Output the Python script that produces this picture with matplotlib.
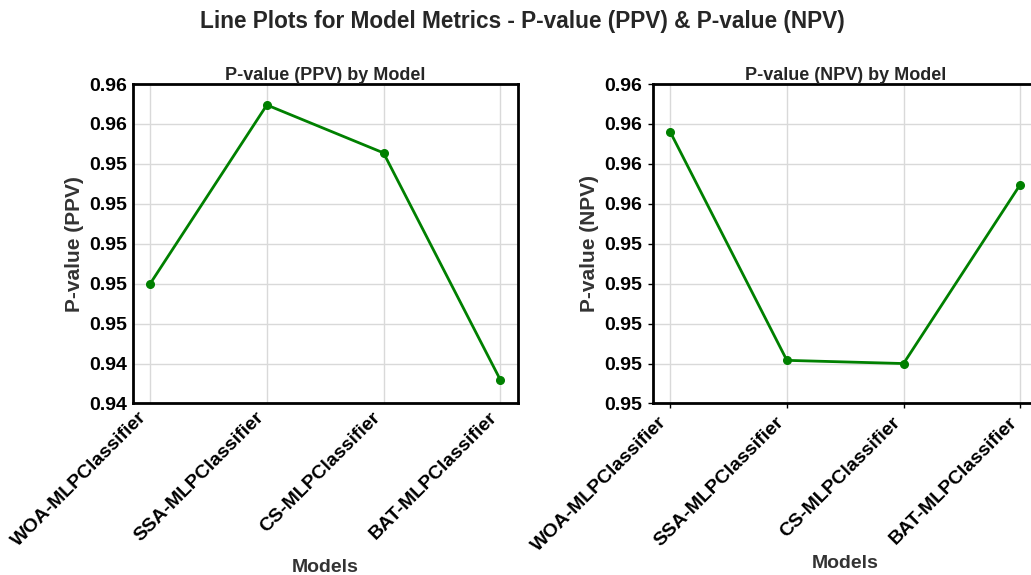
import numpy as np
import matplotlib.pyplot as plt
from matplotlib.ticker import FormatStrFormatter, MultipleLocator

models = ["WOA-MLPClassifier", "SSA-MLPClassifier", "CS-MLPClassifier", "BAT-MLPClassifier"]
ppv = [0.9480, 0.95695, 0.95455, 0.9432]
npv = [0.9568, 0.95108, 0.9510, 0.95548]

plt.rcParams['font.family'] = ['Liberation Sans', 'DejaVu Sans']
plt.rcParams['font.weight'] = 'bold'

fig = plt.figure(figsize=(10.31, 5.75), dpi=100)
fig.suptitle("Line Plots for Model Metrics - P-value (PPV) & P-value (NPV)",
             fontsize=16.3, fontweight='bold', color='#262626', x=0.507, y=0.983)

panels = [
    (ppv, "P-value (PPV)", "P-value (PPV) by Model", [0.1287, 0.2983, 0.3734, 0.5556], (0.942, 0.958), 0.002, 0, 6),
    (npv, "P-value (NPV)", "P-value (NPV) by Model", [0.6331, 0.2983, 0.3734, 0.5556], (0.950, 0.958), 0.001, 3.5, 0),
]

for vals, ylab, title, pos, ylim, step, tlen, xpad in panels:
    ax = fig.add_axes(pos)
    x = np.arange(len(models))
    ax.plot(x, vals, color='green', linewidth=2, marker='o', markersize=5.5)
    ax.set_ylim(*ylim)
    ax.yaxis.set_major_locator(MultipleLocator(step))
    ax.yaxis.set_major_formatter(FormatStrFormatter('%.2f'))
    ax.set_xticks(x)
    ax.set_xticklabels(models, rotation=45, ha='right')
    ax.grid(True, color='#d9d9d9', linewidth=1)
    ax.set_axisbelow(True)
    for s in ax.spines.values():
        s.set_color('black')
        s.set_linewidth(2)
    ax.tick_params(axis='both', labelsize=14, length=tlen, width=1, colors='black', pad=4)
    for lbl in ax.get_xticklabels() + ax.get_yticklabels():
        lbl.set_fontweight('bold')
    ax.set_title(title, fontsize=13, fontweight='bold', color='#262626', pad=3)
    ax.set_xlabel("Models", fontsize=14, fontweight='bold', color='#333333', labelpad=xpad)
    ax.set_ylabel(ylab, fontsize=15, fontweight='bold', color='#333333')

fig.savefig("out.png", dpi=100)
